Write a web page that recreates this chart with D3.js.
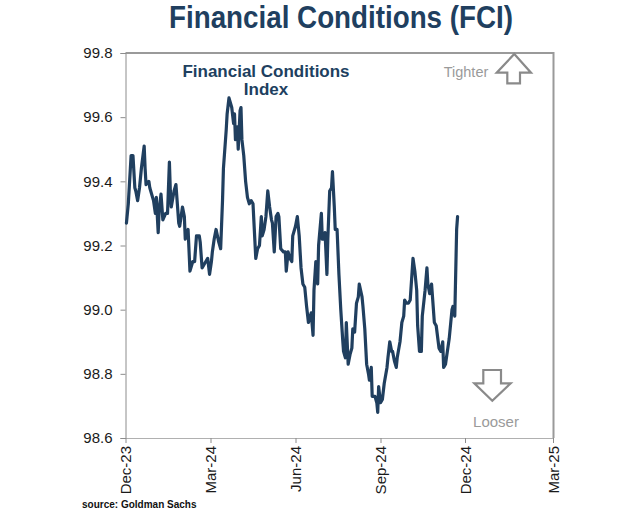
<!DOCTYPE html>
<html>
<head>
<meta charset="utf-8">
<script src="https://cdn.jsdelivr.net/npm/d3@7"></script>
<style>
  html, body { margin: 0; padding: 0; background: #fff; }
  svg { display: block; }
</style>
</head>
<body>
<svg id="chart" width="640" height="510"></svg>
<script>
// ---- data ----
const dates = [
 "2023-12-02","2023-12-04","2023-12-07","2023-12-09","2023-12-11","2023-12-12","2023-12-14","2023-12-16","2023-12-18","2023-12-21",
 "2023-12-22","2023-12-23","2023-12-26","2023-12-27","2023-12-31","2024-01-02","2024-01-03","2024-01-05","2024-01-06","2024-01-08",
 "2024-01-10","2024-01-13","2024-01-15","2024-01-17","2024-01-18","2024-01-19","2024-01-22","2024-01-24","2024-01-27","2024-01-28",
 "2024-01-31","2024-02-02","2024-02-03","2024-02-06","2024-02-08","2024-02-11","2024-02-13","2024-02-15","2024-02-18","2024-02-19",
 "2024-02-21","2024-02-25","2024-02-27","2024-02-29","2024-03-02","2024-03-03","2024-03-05","2024-03-07","2024-03-10","2024-03-12",
 "2024-03-14","2024-03-15","2024-03-18","2024-03-19","2024-03-21","2024-03-24","2024-03-26","2024-03-27","2024-03-28","2024-03-30",
 "2024-03-31","2024-04-02","2024-04-03","2024-04-04","2024-04-06","2024-04-08","2024-04-10","2024-04-12","2024-04-14","2024-04-16",
 "2024-04-19","2024-04-21","2024-04-23","2024-04-25","2024-04-26","2024-04-28","2024-04-30","2024-05-02","2024-05-04","2024-05-06",
 "2024-05-07","2024-05-09","2024-05-11","2024-05-13","2024-05-14","2024-05-16","2024-05-19","2024-05-21","2024-05-22","2024-05-24",
 "2024-05-26","2024-05-28","2024-05-29","2024-06-01","2024-06-03","2024-06-05","2024-06-07","2024-06-09","2024-06-11","2024-06-13",
 "2024-06-15","2024-06-18","2024-06-20","2024-06-21","2024-06-23","2024-06-25","2024-06-26","2024-06-29","2024-06-30","2024-07-02",
 "2024-07-03","2024-07-05","2024-07-06","2024-07-08","2024-07-10","2024-07-11","2024-07-13","2024-07-14","2024-07-16","2024-07-18",
 "2024-07-20","2024-07-22","2024-07-23","2024-07-25","2024-07-26","2024-07-28","2024-07-30","2024-08-01","2024-08-02","2024-08-04",
 "2024-08-06","2024-08-08","2024-08-09","2024-08-12","2024-08-13","2024-08-15","2024-08-17","2024-08-19","2024-08-20","2024-08-22",
 "2024-08-23","2024-08-26","2024-08-28","2024-08-29","2024-08-30","2024-09-01","2024-09-03","2024-09-05","2024-09-08","2024-09-09",
 "2024-09-11","2024-09-13","2024-09-14","2024-09-16","2024-09-18","2024-09-19","2024-09-22","2024-09-24","2024-09-26","2024-09-27",
 "2024-09-29","2024-10-01","2024-10-03","2024-10-06","2024-10-08","2024-10-10","2024-10-11","2024-10-13","2024-10-15","2024-10-16",
 "2024-10-19","2024-10-21","2024-10-22","2024-10-24","2024-10-26","2024-10-27","2024-10-29","2024-10-31","2024-11-03","2024-11-05",
 "2024-11-07","2024-11-08","2024-11-10","2024-11-12","2024-11-14","2024-11-17","2024-11-18","2024-11-20","2024-11-22","2024-11-23"
];
const fciValues = [
 99.27,99.33,99.48,99.48,99.38,99.37,99.34,99.38,99.44,99.51,
 99.44,99.39,99.40,99.38,99.34,99.30,99.35,99.24,99.31,99.36,
 99.28,99.30,99.30,99.46,99.37,99.32,99.37,99.39,99.27,99.26,
 99.32,99.29,99.22,99.25,99.12,99.15,99.15,99.23,99.23,99.21,
 99.13,99.15,99.16,99.11,99.15,99.18,99.22,99.25,99.21,99.19,
 99.34,99.44,99.56,99.61,99.66,99.63,99.58,99.61,99.53,99.57,
 99.50,99.62,99.63,99.53,99.48,99.40,99.35,99.33,99.34,99.33,
 99.16,99.19,99.20,99.29,99.23,99.25,99.29,99.37,99.32,99.28,
 99.27,99.18,99.29,99.30,99.29,99.19,99.18,99.18,99.12,99.18,
 99.16,99.15,99.23,99.26,99.29,99.23,99.13,99.08,99.07,99.01,
 98.96,98.99,98.92,99.06,99.15,99.08,99.20,99.30,99.22,99.22,
 99.24,99.11,99.22,99.37,99.38,99.43,99.32,99.25,99.25,99.11,
 99.00,98.91,98.87,98.85,98.96,98.83,98.86,98.88,98.94,98.93,
 99.02,99.04,99.08,99.04,99.01,98.94,98.83,98.80,98.78,98.82,
 98.73,98.73,98.71,98.68,98.76,98.71,98.72,98.77,98.82,98.85,
 98.90,98.87,98.87,98.84,98.82,98.85,98.90,98.96,98.98,99.03,
 99.02,99.02,99.03,99.16,99.12,99.06,98.95,98.87,98.87,98.98,
 99.06,99.13,99.08,99.05,99.08,99.04,98.96,98.95,98.88,98.87,
 98.90,98.82,98.83,98.87,98.91,99.00,99.01,98.98,99.25,99.29
];
const xTickDates = ["2023-12-01","2024-03-01","2024-06-01","2024-09-01","2024-12-01","2025-03-01"];
const yTicks = [98.6, 98.8, 99.0, 99.2, 99.4, 99.6, 99.8];
const yDomain = [98.6, 99.8];
const titleText = "Financial Conditions (FCI)";
const seriesLabel = ["Financial Conditions", "Index"];
const sourceText = "source: Goldman Sachs";

// ---- layout ----
const navy = "#203f5f";
const parse = d3.timeParse("%Y-%m-%d");
const data = dates.map((d, i) => ({ date: parse(d), value: fciValues[i] }));
const tickDates = xTickDates.map(parse);

const plot = { left: 125.5, right: 553.5, top: 53, bottom: 438 };
const svg = d3.select("#chart");

// piecewise time scale (quarterly positions as in the source axis)
const xRange = [125.5, 210.5, 295.5, 380.5, 465, 553];
const x = d3.scaleTime().domain(tickDates).range(xRange);
const y = d3.scaleLinear().domain(yDomain).range([plot.bottom, plot.top]);

// title (condensed bold)
svg.append("text")
  .attr("x", 341).attr("y", 28)
  .attr("text-anchor", "middle")
  .attr("font-family", "'Liberation Sans', Arial, sans-serif")
  .attr("font-weight", "bold")
  .attr("font-size", 32)
  .attr("fill", navy)
  .attr("textLength", 344)
  .attr("lengthAdjust", "spacingAndGlyphs")
  .text(titleText);

// plot frame (top + right)
svg.append("path")
  .attr("d", `M${plot.left},${plot.top}H${plot.right}V${plot.bottom}`)
  .attr("fill", "none").attr("stroke", "#9a9a9a").attr("stroke-width", 2);

// y axis
const yAxis = svg.append("g")
  .attr("transform", `translate(${plot.left},0)`)
  .call(d3.axisLeft(y).tickValues(yTicks).tickFormat(d3.format(".1f")).tickSize(5).tickPadding(8));
yAxis.select(".domain").attr("stroke", "#8c8c8c");
yAxis.selectAll(".tick line").attr("stroke", "#8c8c8c");
yAxis.selectAll(".tick text")
  .attr("font-family", "'Liberation Sans', Arial, sans-serif")
  .attr("font-size", 15).attr("fill", "#1a1a1a");

// x axis
const xAxis = svg.append("g")
  .attr("transform", `translate(0,${plot.bottom})`)
  .call(d3.axisBottom(x).tickValues(tickDates).tickFormat(d3.timeFormat("%b-%y")).tickSize(5).tickSizeOuter(0));
xAxis.select(".domain").attr("stroke", "#b0b0b0");
xAxis.selectAll(".tick line").attr("stroke", "#8c8c8c");
xAxis.selectAll(".tick text")
  .attr("font-family", "'Liberation Sans', Arial, sans-serif")
  .attr("font-size", 15).attr("fill", "#1a1a1a")
  .attr("text-anchor", "end")
  .attr("transform", "rotate(-90)")
  .attr("x", -8).attr("y", 0).attr("dy", "0.35em");

// line
const line = d3.line().x(d => x(d.date)).y(d => y(d.value)).curve(d3.curveLinear);
svg.append("path")
  .datum(data)
  .attr("d", line)
  .attr("fill", "none")
  .attr("stroke", navy)
  .attr("stroke-width", 3.2)
  .attr("stroke-linejoin", "round")
  .attr("stroke-linecap", "round");

// series label
const lbl = svg.append("text")
  .attr("text-anchor", "middle")
  .attr("font-family", "'Liberation Sans', Arial, sans-serif")
  .attr("font-weight", "bold")
  .attr("font-size", 17)
  .attr("fill", navy);
lbl.append("tspan").attr("x", 266).attr("y", 77).text(seriesLabel[0]);
lbl.append("tspan").attr("x", 266).attr("y", 95).text(seriesLabel[1]);

// tighter / looser annotations
const grey = "#8a8a8a";
svg.append("text")
  .attr("x", 466).attr("y", 77).attr("text-anchor", "middle")
  .attr("font-family", "'Liberation Sans', Arial, sans-serif")
  .attr("font-size", 14.5).attr("fill", "#9a9a9a")
  .text("Tighter");
svg.append("path")
  .attr("d", "M514.3,54 L531,72.7 L520,72.7 L520,83.3 L507.3,83.3 L507.3,72.7 L496.7,72.7 Z")
  .attr("fill", "#fff").attr("stroke", grey).attr("stroke-width", 2.2).attr("stroke-linejoin", "miter");

svg.append("path")
  .attr("d", "M483.3,370 L501,370 L501,383.3 L510.7,383.3 L492.3,400.7 L474.3,383.3 L483.3,383.3 Z")
  .attr("fill", "#fff").attr("stroke", grey).attr("stroke-width", 2.2).attr("stroke-linejoin", "miter");
svg.append("text")
  .attr("x", 496).attr("y", 427).attr("text-anchor", "middle")
  .attr("font-family", "'Liberation Sans', Arial, sans-serif")
  .attr("font-size", 15).attr("fill", "#9a9a9a")
  .text("Looser");

// source
svg.append("text")
  .attr("x", 82).attr("y", 508)
  .attr("font-family", "'Liberation Sans', Arial, sans-serif")
  .attr("font-weight", "bold")
  .attr("font-size", 10)
  .attr("fill", "#111")
  .text(sourceText);
</script>
</body>
</html>
